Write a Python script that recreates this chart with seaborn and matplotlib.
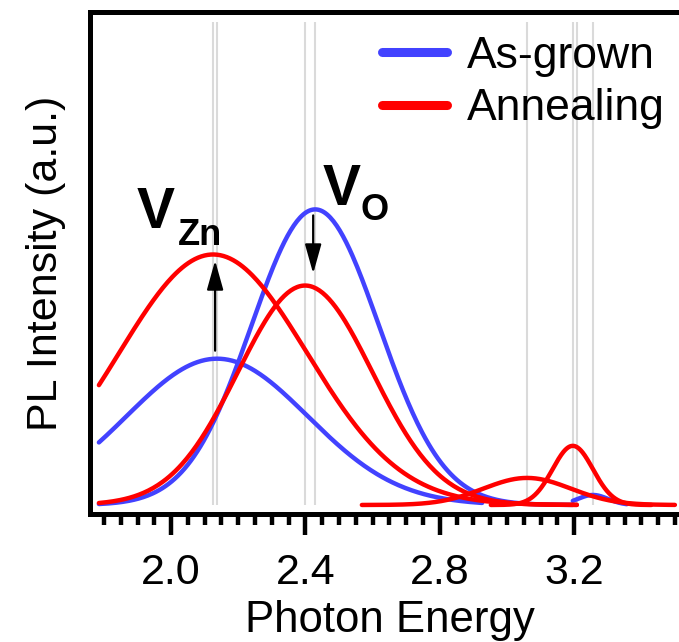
import numpy as np
import pandas as pd
import matplotlib
matplotlib.use("Agg")
import matplotlib.pyplot as plt
from matplotlib.lines import Line2D
import seaborn as sns

# ---- data: Gaussian PL components ----
series     = ["As-grown", "As-grown", "As-grown",
              "Annealing", "Annealing", "Annealing", "Annealing"]
centers    = [2.137, 2.429, 3.256, 2.125, 2.399, 3.060, 3.196]   # eV
amplitudes = [1.46, 2.95, 0.10, 2.50, 2.19, 0.27, 0.59]          # a.u.
widths     = [0.27, 0.19, 0.045, 0.28, 0.20, 0.13, 0.06]         # sigma, eV
starts     = [1.785, 1.785, 3.196, 1.785, 1.785, 2.568, 2.952]
ends       = [2.926, 3.196, 3.357, 3.208, 3.208, 3.500, 3.430]
marker_lines = [2.125, 2.137, 2.399, 2.429, 3.060, 3.196, 3.208, 3.256]
xticks       = [2.0, 2.4, 2.8, 3.2]
xtick_labels = ["2.0", "2.4", "2.8", "3.2"]
legend_labels = ["As-grown", "Annealing"]
colors = {"As-grown": "#4242ff", "Annealing": "#ff0000"}

rows = []
for i, (s, c, a, w, e0, e1) in enumerate(zip(series, centers, amplitudes, widths, starts, ends)):
    e = np.linspace(e0, e1, 300)
    rows.append(pd.DataFrame({"E": e, "I": a * np.exp(-(e - c) ** 2 / (2 * w ** 2)),
                              "series": s, "comp": i}))
df = pd.concat(rows, ignore_index=True)

sns.set_theme(style="white")
plt.rcParams["font.family"] = ["Liberation Sans", "DejaVu Sans"]
plt.rcParams["text.color"] = "black"
plt.rcParams["axes.labelcolor"] = "black"
plt.rcParams["xtick.color"] = "black"
plt.rcParams["xtick.labelcolor"] = "black"

fig = plt.figure(figsize=(6.79, 6.42), dpi=100)
ax = fig.add_axes([89.5 / 679, 128 / 642, (690 - 89.5) / 679, (630 - 128) / 642])

ax.vlines(marker_lines, 0, 4.82, color="#dadada", lw=1.5, zorder=1)

sns.lineplot(data=df, x="E", y="I", hue="series", units="comp", estimator=None,
             sort=False, palette=colors, hue_order=legend_labels, lw=3.2,
             legend=False, ax=ax, zorder=3)

ax.set_xlim(1.757, 3.545)
ax.set_ylim(-0.09, 4.92)

# axes styling
for sp in ["left", "bottom", "top"]:
    ax.spines[sp].set_color("black")
    ax.spines[sp].set_linewidth(3.6)
ax.spines["right"].set_visible(False)
ax.set_yticks([])
ax.set_xticks(xticks)
ax.set_xticklabels(xtick_labels)
ax.set_xticks(np.arange(1.8, 3.55, 0.05), minor=True)
ax.tick_params(axis="x", which="major", direction="out", length=15, width=3.2,
               labelsize=31, pad=13, colors="black", bottom=True)
ax.tick_params(axis="x", which="minor", direction="out", length=8, width=3.2,
               bottom=True, colors="black")
ax.set_xlabel("Photon Energy", fontsize=31.5, labelpad=5, color="black")
ax.set_ylabel("PL Intensity (a.u.)", fontsize=31, labelpad=17, color="black")

# annotations
arrow = dict(arrowstyle="-|>,head_length=1.0,head_width=0.28", color="black",
             lw=1.6, shrinkA=0, shrinkB=0, mutation_scale=18)
ax.annotate("", xy=(2.131, 2.44), xytext=(2.131, 1.54), arrowprops=arrow, zorder=5)
ax.annotate("", xy=(2.423, 2.31), xytext=(2.423, 2.89), arrowprops=arrow, zorder=5)
ax.text(1.897, 2.76, "V", fontsize=41, fontweight="bold", ha="left", va="baseline")
ax.text(2.021, 2.59, "Zn", fontsize=26, fontweight="bold", ha="left", va="baseline")
ax.text(2.450, 2.99, "V", fontsize=41, fontweight="bold", ha="left", va="baseline")
ax.text(2.5625, 2.84, "O", fontsize=26, fontweight="bold", ha="left", va="baseline")

handles = [Line2D([], [], color=colors[s], lw=6.5) for s in legend_labels]
fig.legend(handles, legend_labels, loc="upper left",
           bbox_to_anchor=(382 / 679, 1 - 36 / 642), frameon=False,
           fontsize=32, handlelength=1.46, handletextpad=0.45,
           labelspacing=0.25, borderpad=0, borderaxespad=0)

fig.savefig("out.png", dpi=100)
